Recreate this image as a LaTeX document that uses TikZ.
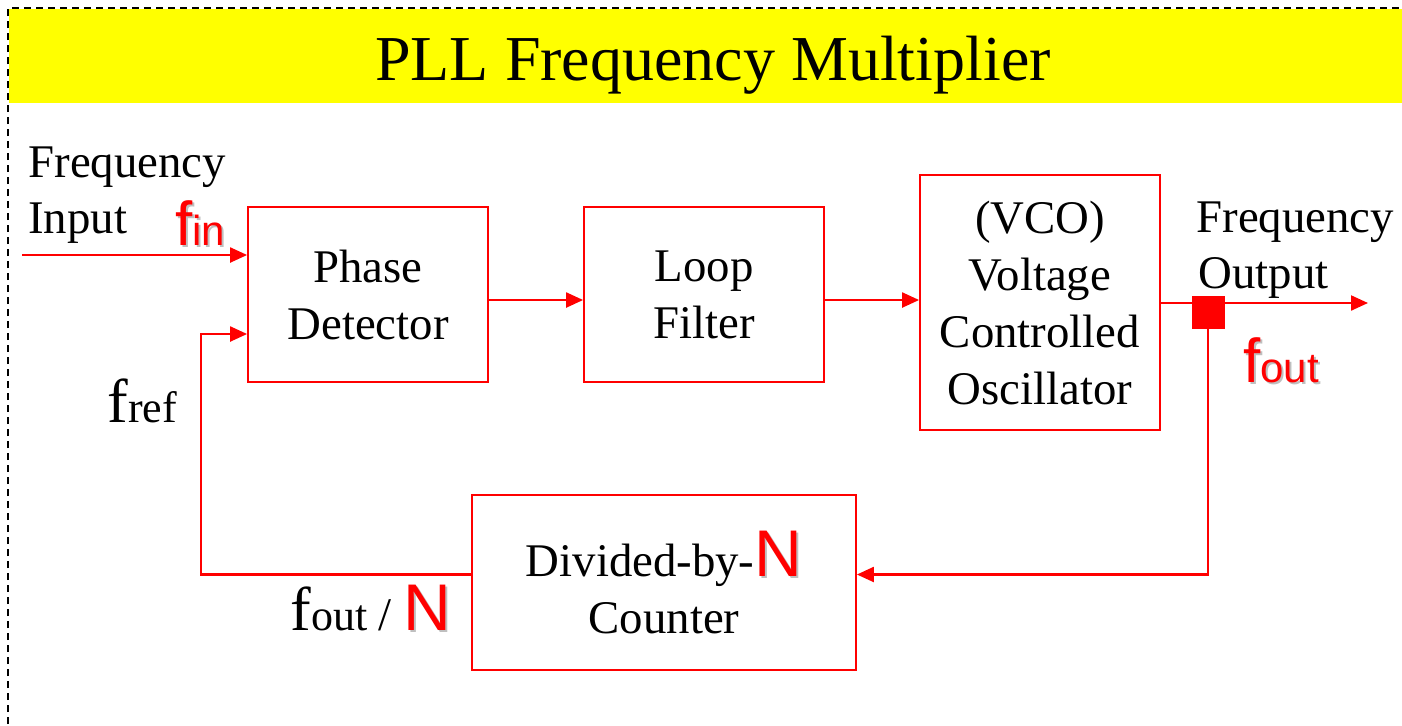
\documentclass[tikz,border=0pt]{standalone}
\usepackage{fontspec}
\setmainfont{Liberation Serif}
\newfontfamily\arialfont{Liberation Sans}
\usetikzlibrary{arrows.meta}

\def\boxfont{\fontsize{23.4pt}{28.5pt}\selectfont}
\def\titlefont{\fontsize{32pt}{36pt}\selectfont}
\definecolor{barYellow}{rgb}{1,1,0}
% grey drop shadow behind red labels
\newcommand{\shadowed}[1]{\rlap{\kern1pt\raisebox{-1pt}{\textcolor{black!25}{#1}}}#1}
\newcommand{\sansf}[1]{\shadowed{\arialfont\fontsize{31pt}{31pt}\selectfont f\fontsize{21pt}{21pt}\selectfont #1}}
\newcommand{\seriff}[1]{{\fontsize{31pt}{31pt}\selectfont f}{\fontsize{22pt}{22pt}\selectfont #1}}
\newcommand{\bigN}{\textcolor{red}{\shadowed{\arialfont\fontsize{33pt}{33pt}\selectfont N}}}

\tikzset{
  block/.style={draw=red, line width=0.9pt, minimum width=120pt, minimum height=87.5pt,
    align=center, font=\boxfont, inner sep=0pt},
  sig/.style={red, line width=1.1pt, -{Triangle[length=8.5pt,width=7.5pt]}},
  lbl/.style={anchor=base west, inner sep=0pt, font=\boxfont},
}

\begin{document}
\begin{tikzpicture}[x=0.5pt, y=-0.5pt]
\useasboundingbox (0,0) rectangle (1402,725);

% frame and title bar
\fill[barYellow] (9,9) rectangle (1402,103);
\draw[dash pattern=on 3.5pt off 2.5pt, line width=1.2pt] (8,760) -- (8,8) -- (1440,8);
\node[font=\titlefont, inner sep=0pt, anchor=base] (title) at (713,80) {PLL Frequency Multiplier};

% blocks
\node[block] (pd) at (368,294.5) {Phase\\Detector};
\node[block] (lf) at (704,294.5) {Loop\\Filter};
\node[block, minimum height=127.5pt] (vco) at (1040,302.5) {(VCO)\\Voltage\\Controlled\\Oscillator};
\node[block, minimum width=192pt] (div) at (664,582.5) {Divided-by-\bigN\\Counter};

% labels
\node[lbl] (inlbl) at (28,177) {Frequency};
\node[lbl] (inlblb) at (28,233) {Input};
\node[lbl, text=red] (fin) at (175,245) {\sansf{in}};
\node[lbl] (outlbl) at (1196,232) {Frequency};
\node[lbl] (outlblb) at (1198,288) {Output};
\node[lbl, text=red] (fout) at (1243,382) {\sansf{out}};
\node[lbl] (fref) at (107,422) {\seriff{ref}};
\node[lbl] (foutn) at (290,630) {\seriff{out} / \bigN};

\coordinate (src) at (22,255);
\coordinate (out) at (1368,303);
\coordinate (fb) at (201,334);

% signal path
\draw[sig] (src) -- (src -| pd.west);
\draw[sig] ([yshift=-2.75pt]pd.east) -- ([yshift=-2.75pt]lf.west);
\draw[sig] ([yshift=-2.75pt]lf.east) -- ([yshift=-2.75pt]lf.east -| vco.west);
\draw[sig] (vco.east |- out) -- (out);
\draw[sig] (1208,312) |- ([yshift=4pt]div.east);
\draw[sig] ([yshift=4pt]div.west) -| (fb) -- (fb -| pd.west);
\node[fill=red, minimum size=16.5pt, inner sep=0pt] (jct) at (1208,312) {};
\end{tikzpicture}
\end{document}
